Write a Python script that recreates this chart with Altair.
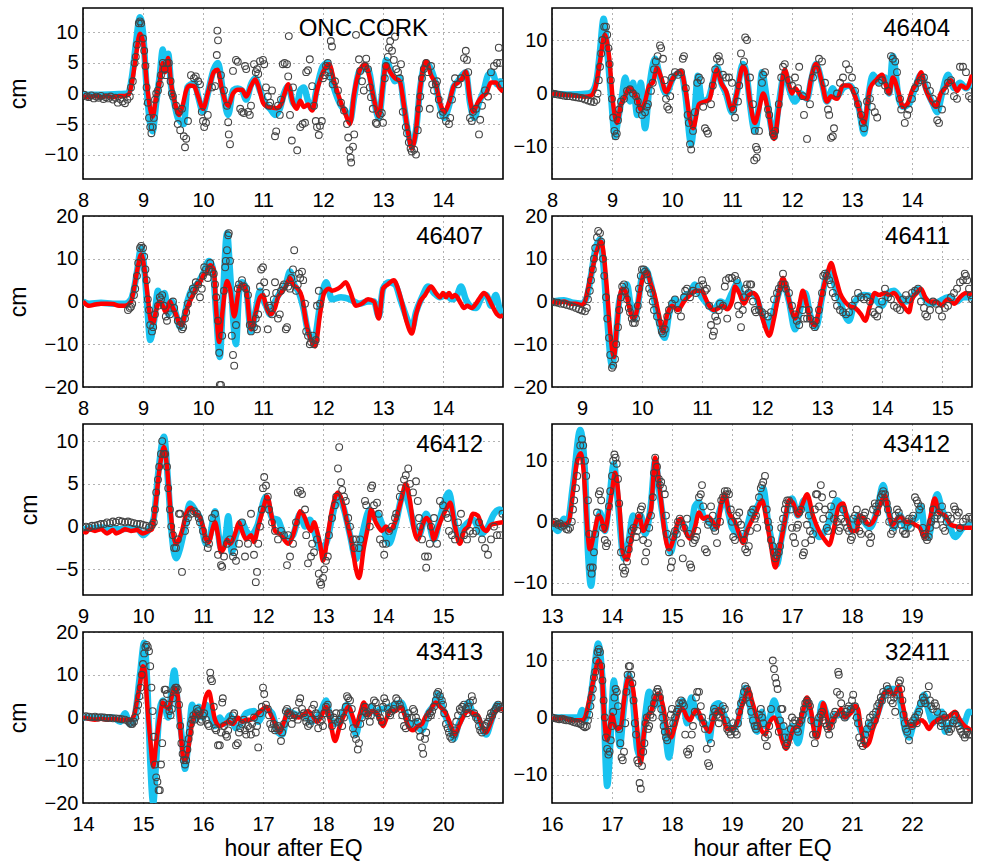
import altair as alt
import pandas as pd

# ---------------- data (hours after EQ, cm) ----------------
CORK_OBS = [(8.02,-0.2),(8.06,-0.5),(8.10,-0.6),(8.14,-0.3),(8.18,-0.8),(8.22,-0.5),(8.26,-0.7),(8.30,-0.4),(8.34,-0.9),(8.38,-0.6),(8.42,-0.8),(8.46,-0.5),(8.50,-1.0),(8.54,-0.7),(8.58,-1.5),(8.62,-0.9),(8.66,-1.3),(8.70,-1.6),(8.74,-1.0),(8.78,-0.5),
(8.80,1.0),(8.83,2.0),(8.86,5.0),(8.88,6.0),(8.90,8.0),(8.93,11.5),(8.95,11.8),(8.97,11.5),(9.00,9.0),(9.02,7.0),(9.04,4.5),(9.06,1.0),(9.08,-1.5),(9.10,-4.0),(9.12,-5.5),(9.14,-6.5),(9.16,-5.5),(9.18,-4.0),(9.20,-1.0),(9.22,0.0),(9.25,0.5),(9.28,1.5),(9.30,3.0),(9.33,5.0),(9.36,4.0),(9.38,3.0),(9.40,5.0),(9.43,5.0),(9.46,2.0),(9.48,0.0),(9.50,-0.5),(9.55,-2.0),(9.58,-5.0),(9.60,-3.0),(9.62,-6.0),(9.65,-2.5),(9.68,-7.0),(9.70,-8.8),(9.72,-7.4),(9.75,-4.5),(9.80,3.0),(9.85,2.5),(9.88,2.8),(9.92,2.0),(9.95,1.5),(9.98,-3.0),(10.00,-4.5),(10.02,-5.5),(10.05,-4.8),(10.08,-3.5),(10.15,1.0),(10.20,1.2),(10.23,6.3),(10.24,10.3),(10.25,8.7),(10.30,3.0),(10.35,0.5),(10.40,-2.0),(10.42,-4.7),(10.43,-6.7),(10.45,-8.3),(10.50,3.7),(10.55,5.5),(10.58,5.2),(10.62,-2.5),(10.65,-3.0),(10.68,-3.2),(10.70,4.5),(10.72,4.0),(10.75,-3.0),(10.78,-3.5),(10.80,-2.0),(10.85,4.8),(10.88,3.5),(10.90,4.0),(10.92,3.2),(10.95,5.3),(11.00,5.5),(11.02,4.8),(11.05,1.0),(11.08,-0.5),(11.10,-2.0),(11.12,-1.5),(11.15,0.5),(11.20,-7.0),(11.22,-6.2),(11.25,-2.0),(11.28,-3.5),(11.30,-1.0),(11.33,4.8),(11.36,5.0),(11.40,4.8),(11.42,2.8),(11.43,9.4),(11.45,-3.5),(11.48,-7.7),(11.50,1.0),(11.57,-9.3),(11.62,-5.5),(11.66,-5.0),(11.70,-4.8),(11.72,3.5),(11.75,3.8),(11.78,5.6),(11.82,1.2),(11.85,-2.0),(11.88,-4.5),(11.90,-5.5),(11.93,-6.8),(11.95,-5.3),(11.98,-4.5),(12.00,2.5),(12.03,3.0),(12.05,4.5),(12.08,5.0),(12.10,3.5),(12.12,2.8),(12.13,8.6),(12.15,7.7),(12.16,1.5),(12.20,2.0),(12.25,0.5),(12.30,-1.5),(12.35,-2.8),(12.40,-5.0),(12.42,-7.2),(12.44,-9.3),(12.46,-10.5),(12.47,-11.3),(12.50,-8.7),(12.52,-6.7),(12.55,9.6),(12.60,5.6),(12.62,3.7),(12.65,2.0),(12.68,0.5),(12.70,4.5),(12.72,5.7),(12.75,4.0),(12.78,1.0),(12.80,-0.6),(12.83,-2.5),(12.88,-4.8),(12.90,-5.0),(12.95,-3.5),(12.98,-3.2),(13.00,-4.8),(13.03,2.5),(13.05,4.5),(13.08,6.0),(13.10,7.5),(13.12,8.6),(13.15,7.0),(13.18,5.5),(13.20,9.3),(13.22,4.0),(13.25,3.5),(13.28,2.5),(13.30,4.8),(13.33,-3.0),(13.38,-5.5),(13.40,-6.5),(13.43,-8.0),(13.46,-9.0),(13.48,-9.5),(13.52,-9.2),(13.55,-10.0),(13.58,-6.0),(13.60,-2.5),(13.62,-0.5),(13.65,2.5),(13.68,4.0),(13.72,5.0),(13.75,3.5),(13.78,-2.5),(13.80,4.5),(13.82,1.5),(13.85,0.5),(13.88,1.5),(13.90,2.0),(13.93,-1.0),(13.96,-3.5),(14.00,-3.0),(14.05,-4.5),(14.10,-5.0),(14.12,-4.0),(14.15,-1.0),(14.20,2.5),(14.25,1.5),(14.30,2.5),(14.35,5.8),(14.38,7.0),(14.40,5.5),(14.42,3.5),(14.45,-4.0),(14.48,-4.5),(14.50,-3.0),(14.55,-2.5),(14.60,-6.7),(14.62,-4.3),(14.65,-2.0),(14.70,0.5),(14.75,-0.5),(14.80,3.5),(14.85,4.5),(14.90,5.0),(14.93,7.5),(14.95,5.0),(14.98,1.5)]
CORK_RED = [(8.0,-0.5),(8.1,-0.6),(8.2,-0.4),(8.3,-0.6),(8.4,-0.4),(8.5,-0.6),(8.6,-0.4),(8.7,-0.4),(8.76,-0.2),(8.82,2),(8.88,6),(8.95,9.8),(9.0,8.5),(9.06,2),(9.12,-2.5),(9.16,-3.8),(9.22,-0.5),(9.28,2),(9.33,5),(9.37,3.5),(9.42,5.8),(9.47,1.5),(9.52,-1),(9.6,-3.5),(9.66,-2),(9.72,0.5),(9.78,1.3),(9.85,1.2),(9.92,-0.5),(10.0,-2.5),(10.08,0),(10.18,3.5),(10.24,3.9),(10.32,0.5),(10.42,-2.0),(10.5,0),(10.58,0.6),(10.65,0.6),(10.72,-0.5),(10.8,1.2),(10.87,2.3),(10.93,1),(11.0,-1.5),(11.08,-2.2),(11.15,-2.3),(11.22,-2.4),(11.3,-1.8),(11.36,0),(11.42,1.5),(11.5,-1.5),(11.56,-2.5),(11.62,-1.2),(11.68,-2.2),(11.75,-1.8),(11.82,-2.8),(11.9,0.5),(12.0,3.5),(12.1,4.8),(12.2,1.5),(12.3,-1.5),(12.38,-3.5),(12.45,-5),(12.52,0),(12.6,3.5),(12.7,4.8),(12.78,2.5),(12.85,-1),(12.93,-3.7),(13.0,1.5),(13.05,4.8),(13.12,3.5),(13.2,2.5),(13.28,2),(13.35,-2),(13.42,-6.5),(13.48,-9),(13.55,-6),(13.62,1),(13.72,5.3),(13.8,3),(13.88,1.5),(13.95,-1.5),(14.02,-3),(14.1,-1.5),(14.18,1.2),(14.25,1.8),(14.32,2.5),(14.38,3.6),(14.45,-1),(14.5,-3),(14.58,-1.5),(14.65,-0.5),(14.72,0),(14.8,1.8),(14.88,1.8),(14.95,0.8),(15.0,0.3)]
CORK_CYAN = [(8.0,-0.2),(8.3,-0.2),(8.6,-0.1),(8.75,0),(8.82,3),(8.88,8),(8.95,12.5),(9.0,10),(9.06,1),(9.12,-5),(9.16,-6.2),(9.22,-1.5),(9.28,3),(9.33,7.2),(9.37,4),(9.42,6.5),(9.47,1),(9.52,-1.5),(9.58,-4),(9.62,-4.5),(9.68,-5),(9.74,1),(9.8,1.5),(9.86,1.7),(9.92,-0.5),(10.0,-3),(10.08,0),(10.18,4),(10.25,5),(10.33,0.5),(10.42,-3.5),(10.5,0.5),(10.58,0.8),(10.65,0.5),(10.72,-1),(10.8,1.5),(10.87,2.5),(10.95,0.5),(11.05,-1.8),(11.12,-2.5),(11.2,-3.5),(11.28,-2.5),(11.35,0),(11.42,1.2),(11.5,-1.5),(11.56,-2),(11.62,0.5),(11.68,1),(11.75,-1.2),(11.82,-2.5),(11.9,1),(12.0,4.5),(12.08,5),(12.18,1),(12.3,-2),(12.38,-3),(12.45,-4.5),(12.52,-0.5),(12.6,3.5),(12.68,4),(12.75,4),(12.85,-1),(12.93,-4),(13.0,1.5),(13.05,5.5),(13.12,4),(13.2,2),(13.28,2.5),(13.35,-2),(13.42,-6.5),(13.48,-8.5),(13.55,-6),(13.62,1),(13.72,5),(13.8,4),(13.88,1.5),(13.95,-2),(14.02,-4),(14.1,-2),(14.18,1.2),(14.25,2),(14.32,3),(14.38,3.5),(14.45,-1.5),(14.52,-4),(14.6,-1.5),(14.68,0.5),(14.75,3),(14.82,3.5),(14.9,1.5),(14.95,2),(15.0,1)]

S46404_OBS = [(8.0,0),(8.05,-0.1),(8.1,-0.2),(8.15,-0.3),(8.2,-0.4),(8.25,-0.5),(8.3,-0.5),(8.35,-0.6),(8.4,-0.7),(8.45,-0.8),(8.5,-0.9),(8.55,-1.1),(8.6,-1.3),(8.65,-1.5),(8.7,-1.6),(8.74,-1.2),(8.76,0),(8.78,2.5),(8.8,5),(8.82,7.5),(8.84,10),(8.87,12.5),(8.9,12.5),(8.92,11),(8.94,8.5),(8.96,5.5),(8.98,2.5),(9.0,-1),(9.02,-4.5),(9.04,-7),(9.06,-8),(9.08,-7.5),(9.1,-5),(9.12,-3),(9.15,-1.5),(9.2,-1),(9.25,0.5),(9.3,0.8),(9.35,0),(9.4,-0.5),(9.43,-1.5),(9.46,-3),(9.5,-4),(9.55,-3.5),(9.58,-2.5),(9.6,-2),(9.65,0.5),(9.68,2),(9.7,4.5),(9.73,6),(9.76,7),(9.8,9),(9.82,8.5),(9.85,6.5),(9.88,2.5),(9.9,-1),(9.92,-2.5),(9.95,-3),(9.97,-0.5),(10.0,3),(10.05,4),(10.1,3.5),(10.15,4),(10.18,6.5),(10.2,7),(10.23,1),(10.26,-4),(10.28,-5.5),(10.3,-9.5),(10.32,-10.5),(10.35,-7),(10.38,-3.5),(10.42,2),(10.45,3),(10.48,2.5),(10.52,-2.5),(10.55,-6.5),(10.58,-7),(10.6,-7.5),(10.65,-2),(10.68,1.5),(10.72,4.5),(10.75,6.5),(10.78,7),(10.8,6),(10.85,3.5),(10.9,3),(10.95,3),(11.0,2),(11.02,-3),(11.05,-4.5),(11.1,-1.5),(11.12,1.5),(11.15,7.5),(11.2,6),(11.22,10.5),(11.25,10),(11.3,3),(11.35,-2),(11.37,-12.5),(11.38,-7),(11.4,-10),(11.41,-12),(11.42,-10.5),(11.45,-7),(11.5,2),(11.52,3.5),(11.55,4),(11.6,-3),(11.62,-4),(11.68,-7.5),(11.7,-8),(11.72,-7),(11.78,-2),(11.82,3),(11.85,5),(11.88,5.5),(11.95,2.5),(12.0,1.5),(12.05,3),(12.1,1),(12.12,5),(12.18,-0.5),(12.2,-4),(12.25,-8.5),(12.3,-2),(12.35,3),(12.4,4.5),(12.45,6.5),(12.5,6),(12.55,2),(12.6,-3),(12.62,-4),(12.65,-8.3),(12.68,-8),(12.7,-6.5),(12.75,0),(12.8,2),(12.85,3),(12.9,5.5),(12.95,4.5),(13.0,3),(13.05,0.5),(13.1,-2),(13.15,-4),(13.18,-5.5),(13.2,-6.5),(13.25,-1.5),(13.3,-1),(13.33,-2.5),(13.38,-3.5),(13.42,-4.5),(13.45,2),(13.5,2.5),(13.55,1.5),(13.6,0.5),(13.65,7),(13.68,6.5),(13.72,6),(13.75,4),(13.8,-1),(13.82,-3),(13.88,-5.5),(13.92,-4),(13.95,-3),(14.0,-1),(14.05,1),(14.1,2),(14.15,2.5),(14.2,3),(14.25,1.5),(14.3,0.5),(14.35,-1),(14.4,-2),(14.42,-5),(14.45,-5.5),(14.5,-3),(14.55,0.5),(14.6,2),(14.65,2.5),(14.7,-0.5),(14.75,-1),(14.8,5),(14.85,5),(14.9,4),(14.95,-0.5),(14.99,-1)]
S46404_RED = [(8.0,0),(8.2,-0.3),(8.4,-0.4),(8.55,-0.6),(8.65,-0.4),(8.72,1),(8.8,6),(8.88,11),(8.95,7),(9.02,-2),(9.08,-5.5),(9.15,-2),(9.2,-1),(9.28,1),(9.35,0.5),(9.42,-1),(9.48,-3),(9.55,-1.5),(9.62,1.5),(9.68,2),(9.75,4.8),(9.82,3),(9.9,0.3),(10.02,3),(10.15,4.2),(10.22,1),(10.3,-4.8),(10.35,-6.5),(10.45,-2),(10.55,-1.5),(10.62,-1.2),(10.68,1.5),(10.75,4.5),(10.82,2),(10.9,0.5),(11.0,-3),(11.08,0),(11.18,5),(11.22,4.5),(11.3,-1.5),(11.38,-5.5),(11.45,-3),(11.52,0),(11.6,-3),(11.7,-8.5),(11.78,-3),(11.88,4.5),(11.95,1.5),(12.0,0),(12.05,1),(12.15,-0.5),(12.25,-1),(12.32,3),(12.4,5.5),(12.5,2),(12.58,-1.5),(12.65,-0.5),(12.75,-1),(12.85,1.5),(12.95,1.5),(13.05,-0.5),(13.12,-3),(13.2,-5.5),(13.3,1),(13.4,2.5),(13.5,3.5),(13.58,1),(13.62,0),(13.68,3),(13.78,0),(13.85,-2.5),(13.92,-2),(14.0,0.5),(14.08,2),(14.15,4),(14.22,1),(14.3,-1),(14.4,-2.5),(14.48,0),(14.55,1),(14.65,2.5),(14.75,0.5),(14.82,1.5),(14.9,1),(15.0,3.5)]
S46404_CYAN = [(8.0,0),(8.3,-0.2),(8.6,0),(8.68,0.5),(8.75,3),(8.8,8),(8.86,14),(8.92,8),(8.98,0),(9.05,-8),(9.1,-5),(9.16,-1),(9.22,3),(9.3,-1.5),(9.35,2),(9.42,-4),(9.48,2),(9.55,-6.5),(9.62,1),(9.72,6.5),(9.8,3),(9.9,0),(10.02,3),(10.15,4),(10.22,0),(10.32,-9.5),(10.38,-3),(10.43,3.3),(10.5,-1.5),(10.6,-1),(10.68,2),(10.75,5),(10.82,2),(10.9,0),(11.0,-3.5),(11.08,0),(11.18,5.5),(11.25,3),(11.3,-2),(11.38,-7),(11.45,-2),(11.5,4),(11.58,-1),(11.7,-8),(11.78,-2),(11.88,4),(11.95,1),(12.05,-1.5),(12.15,0),(12.25,-1),(12.32,2.5),(12.4,5.5),(12.5,2),(12.58,-1.5),(12.68,1),(12.75,-0.5),(12.85,1),(12.95,1.5),(13.05,0),(13.12,-3),(13.2,-7.5),(13.28,0),(13.35,3.5),(13.45,2),(13.55,3),(13.62,0),(13.68,7),(13.78,-1),(13.85,-2.5),(13.95,-2),(14.05,1),(14.15,3.5),(14.25,0.5),(14.35,-2),(14.42,-3.5),(14.5,0),(14.6,3.5),(14.7,1),(14.8,2),(14.9,1),(15.0,2.5)]

S46407_OBS = [(8.75,-2),(8.78,-1.5),(8.8,-1.2),(8.82,-0.5),(8.85,1.5),(8.87,3),(8.9,6),(8.92,9),(8.95,12.5),(8.97,13),(9.0,12.5),(9.02,10.5),(9.04,7.5),(9.06,5),(9.08,0.5),(9.1,-2),(9.12,-5.5),(9.15,-7),(9.17,-6),(9.2,-3),(9.25,-1),(9.28,1),(9.3,0.5),(9.32,1.5),(9.35,-1),(9.38,-3.5),(9.4,-4.5),(9.45,-3),(9.5,0),(9.52,-1.5),(9.58,-4.5),(9.62,-5.5),(9.65,-6.5),(9.67,-6),(9.7,-4),(9.72,-2.5),(9.75,-0.5),(9.8,1.5),(9.83,3),(9.85,2.5),(9.88,4.5),(9.92,4),(9.95,1),(9.98,3),(10.0,6),(10.02,8),(10.05,7.5),(10.08,5.5),(10.1,7.5),(10.12,9),(10.15,7),(10.18,6.5),(10.2,4),(10.22,1),(10.25,-4.5),(10.27,-12),(10.28,-19.5),(10.3,-19.5),(10.32,-8),(10.35,2.5),(10.37,8),(10.38,9.5),(10.4,12),(10.42,15.5),(10.43,16),(10.45,9.5),(10.48,-8),(10.5,-12.5),(10.52,-15),(10.55,-5.5),(10.58,3),(10.6,4),(10.65,5),(10.68,3.5),(10.72,3),(10.75,1.5),(10.78,-5.5),(10.8,-7),(10.82,-5.5),(10.85,-6),(10.88,-4),(10.9,-6.5),(10.92,-3),(10.95,3.5),(10.97,7.5),(11.0,8),(11.02,4.5),(11.05,2),(11.08,-6.5),(11.1,-1),(11.12,-1.5),(11.15,-3),(11.18,0.5),(11.2,4.5),(11.22,2),(11.25,-4),(11.28,-3),(11.3,2.5),(11.33,3.5),(11.35,4),(11.38,-6.5),(11.4,-6),(11.42,3.5),(11.45,3),(11.47,5.5),(11.5,7.5),(11.52,12),(11.55,2.5),(11.58,4),(11.6,6.5),(11.62,5.5),(11.65,7),(11.67,5),(11.7,-0.5),(11.72,-7),(11.75,-8),(11.78,-10),(11.8,-9.5),(11.83,-8),(11.85,-10),(11.88,-9),(11.9,-1),(11.93,2.5),(11.95,-0.5)]
S46407_RED = [(8.0,0),(8.1,-1),(8.2,-0.7),(8.3,-0.5),(8.4,-0.5),(8.5,-0.6),(8.6,-1),(8.7,-1),(8.8,0),(8.85,3),(8.9,7),(8.97,11),(9.02,8),(9.08,1),(9.13,-4.5),(9.17,-5),(9.22,-2),(9.28,0),(9.33,-1),(9.38,-2.5),(9.45,0),(9.5,-1.5),(9.55,-3),(9.6,-5),(9.65,-5.5),(9.7,-3),(9.78,0),(9.85,2),(9.9,4),(9.95,4.5),(10.0,6),(10.05,6.5),(10.12,8.5),(10.18,7.5),(10.22,-2),(10.27,-9.5),(10.32,-3),(10.4,4.8),(10.45,3),(10.52,-3.5),(10.6,3),(10.65,4),(10.72,2.5),(10.8,-6.5),(10.87,-3),(10.95,1),(11.0,1.5),(11.05,-1),(11.12,-3),(11.2,-1.5),(11.25,1),(11.3,2),(11.38,3.5),(11.45,5.5),(11.5,4),(11.58,3),(11.65,1),(11.72,-5),(11.8,-9),(11.87,-10.5),(11.95,-3),(12.02,2),(12.1,3),(12.15,2.5),(12.25,3),(12.3,3.5),(12.38,4.5),(12.45,2.5),(12.55,-1),(12.65,-0.5),(12.75,0.5),(12.85,0),(12.93,-4),(13.0,3),(13.08,4),(13.18,5),(13.25,3),(13.32,-0.5),(13.4,-5),(13.48,-7.5),(13.55,-3),(13.62,0),(13.7,1.5),(13.8,3.5),(13.88,2),(13.95,1),(14.0,2),(14.05,1),(14.1,2),(14.15,1),(14.2,1.5),(14.3,-0.5),(14.35,-1.5),(14.4,-1),(14.48,-1.5),(14.55,-0.5),(14.62,1),(14.68,2),(14.75,1),(14.82,-1),(14.9,-3),(14.95,-3.5),(15.0,-3.2)]
S46407_CYAN = [(8.0,0),(8.1,-0.5),(8.3,-0.3),(8.5,-0.5),(8.7,-0.5),(8.8,0.5),(8.85,3),(8.9,7),(8.97,12.5),(9.02,8),(9.07,-1),(9.12,-9),(9.18,-5),(9.25,2.5),(9.3,0),(9.36,2),(9.42,-3),(9.48,0),(9.55,-3),(9.62,-6),(9.68,-4),(9.75,0.5),(9.82,3),(9.9,4),(10.0,6.5),(10.1,9.5),(10.16,8),(10.22,-3),(10.28,-13),(10.33,0),(10.4,16),(10.46,5),(10.55,-10),(10.6,2),(10.65,4.5),(10.72,3),(10.8,-7),(10.88,-2),(10.95,2.5),(11.0,0.5),(11.05,-1),(11.12,-3),(11.2,0),(11.28,2),(11.38,4),(11.45,7),(11.52,4),(11.6,2),(11.68,-2),(11.75,-7),(11.85,-9),(11.95,-1),(12.05,4.5),(12.15,0.5),(12.3,1),(12.45,0.5),(12.6,-0.5),(12.75,0),(12.85,0),(12.93,-3.5),(13.0,3),(13.1,4.5),(13.2,4),(13.3,0),(13.4,-4),(13.48,-6.5),(13.55,-2.5),(13.65,1),(13.75,3.5),(13.85,2),(13.95,1),(14.05,1.5),(14.15,0.5),(14.22,1),(14.3,3.5),(14.38,0.5),(14.45,-1),(14.55,-1.5),(14.65,1),(14.72,1.5),(14.8,-1),(14.88,1.5),(14.95,-2),(15.0,-2.5)]

S46411_OBS = [(8.5,0),(8.55,-0.2),(8.6,-0.3),(8.65,-0.5),(8.7,-0.6),(8.75,-0.8),(8.8,-1),(8.85,-1.2),(8.9,-1.5),(8.95,-1.8),(9.0,-2.1),(9.05,-2.3),(9.08,-1.5),(9.1,0.5),(9.13,2.5),(9.15,5),(9.18,7.5),(9.2,10),(9.22,12.5),(9.25,15),(9.27,16.5),(9.3,16),(9.32,14),(9.35,10),(9.37,6),(9.4,1),(9.42,-4),(9.45,-8.5),(9.47,-12.5),(9.5,-15.5),(9.52,-15),(9.55,-13.5),(9.57,-10),(9.6,-6),(9.62,-2),(9.65,1),(9.67,3.5),(9.7,4),(9.72,2.5),(9.75,0.5),(9.78,-1.5),(9.8,-2.5),(9.83,-4),(9.85,-5),(9.88,-5),(9.9,-4),(9.93,-1),(9.95,3),(9.98,6),(10.0,7.5),(10.03,7.5),(10.05,7),(10.08,6.5),(10.1,5),(10.12,3),(10.15,2),(10.18,0),(10.2,-2),(10.25,-3.5),(10.3,-5),(10.33,-7),(10.35,-7.5),(10.38,-6.5),(10.42,-3.5),(10.45,-2),(10.5,-0.5),(10.55,0.5),(10.6,-2),(10.65,-3.5),(10.7,1),(10.72,2.5),(10.75,3),(10.8,1),(10.85,2.5),(10.9,2),(10.95,3.5),(11.0,5),(11.02,4),(11.05,2.5),(11.08,3),(11.12,-1),(11.15,-5.5),(11.18,-8),(11.2,-7),(11.22,-3.5),(11.25,-4.5),(11.28,-2),(11.3,-0.5),(11.35,-1),(11.38,3.5),(11.4,5),(11.42,-4),(11.45,5.5),(11.5,5.5),(11.55,6),(11.58,5),(11.6,-1),(11.62,-3),(11.65,-6),(11.68,-2),(11.7,1),(11.72,3),(11.75,4),(11.78,2),(11.8,4),(11.82,4),(11.85,0),(11.88,-2),(11.9,-2.5),(11.95,-2),(12.0,-2.5),(12.05,-3),(12.1,-3.5),(12.15,-2.5),(12.2,0.5),(12.25,2),(12.28,3),(12.32,4),(12.35,6.5),(12.38,4),(12.4,3),(12.45,2),(12.5,-1),(12.55,-3),(12.58,-4.5),(12.62,-5.5),(12.68,-2),(12.7,-4),(12.75,-4),(12.78,-2),(12.8,-4),(12.85,-5.5),(12.88,-6),(12.9,-4.5),(12.95,-2),(13.0,2),(13.02,6),(13.05,6.5),(13.08,6),(13.12,5),(13.15,4),(13.18,2),(13.22,1),(13.25,-1),(13.3,-2),(13.35,-2.5),(13.4,-3),(13.45,-2.5),(13.5,-1),(13.55,0.5),(13.6,2),(13.65,1),(13.7,0.5),(13.75,1),(13.8,0),(13.85,-2.5),(13.88,-3),(13.92,-3.5),(13.95,-2),(14.0,0),(14.05,3),(14.1,1),(14.15,0.5),(14.2,-1),(14.25,-1.5),(14.3,-2),(14.35,0.5),(14.4,1.5),(14.45,0.5),(14.5,2),(14.55,2.5),(14.6,3),(14.65,0),(14.7,-1.5),(14.72,-3),(14.75,-3.5),(14.8,-2),(14.85,0),(14.9,-0.5),(14.95,-2),(15.0,-3.5),(15.05,-1.5),(15.1,-1),(15.15,1),(15.2,2),(15.25,3),(15.3,4.5),(15.35,5),(15.38,6.5),(15.4,6),(15.42,5),(15.45,3),(15.48,1.5),(15.5,0.5)]
S46411_RED = [(8.5,0),(8.6,-0.3),(8.7,0),(8.8,-0.5),(8.9,-0.5),(9.0,-0.8),(9.05,0),(9.1,3),(9.18,8),(9.25,12),(9.32,14),(9.37,10),(9.42,2),(9.47,-7),(9.53,-13),(9.58,-6),(9.62,0),(9.67,3),(9.72,2.5),(9.78,-1),(9.85,-4),(9.9,-3),(9.95,1),(10.02,6),(10.08,7),(10.15,4),(10.2,2),(10.28,-3),(10.35,-7),(10.42,-3),(10.5,-1),(10.6,-2),(10.7,0),(10.8,1.5),(10.9,2.5),(11.0,2.5),(11.05,1),(11.12,-1),(11.2,-2),(11.28,-1.5),(11.35,-1),(11.42,-1.8),(11.5,0),(11.55,3.5),(11.62,2),(11.7,-0.5),(11.78,1.5),(11.85,2),(11.92,1),(12.0,-3.5),(12.08,-7),(12.12,-8),(12.2,-4),(12.28,2),(12.35,5.5),(12.42,2),(12.5,-2.5),(12.55,-4),(12.62,-1),(12.68,2.5),(12.75,-1),(12.8,-4),(12.88,-5.5),(12.95,-2),(13.02,3),(13.1,7),(13.15,9),(13.22,6),(13.3,2),(13.38,0),(13.45,-1),(13.55,-1.5),(13.65,-3),(13.72,-4.5),(13.8,-1),(13.88,2),(13.95,1.5),(14.05,2),(14.12,1.5),(14.2,2),(14.3,0),(14.38,-1.5),(14.45,-2.5),(14.5,0.5),(14.58,2),(14.65,3),(14.72,1),(14.8,0),(14.9,0),(15.0,-1),(15.05,0),(15.1,0.5),(15.2,-0.5),(15.3,1),(15.4,2),(15.5,1.5)]
S46411_CYAN = [(8.5,0),(8.7,0.3),(8.85,-0.3),(9.0,-0.5),(9.08,1),(9.15,6),(9.22,12),(9.3,14.5),(9.36,8),(9.42,-4),(9.5,-15),(9.56,-9),(9.62,0),(9.68,2.5),(9.75,4),(9.8,0),(9.87,-4),(9.93,-1),(10.0,6),(10.06,7.5),(10.15,4),(10.25,-3),(10.38,-8.5),(10.45,-3),(10.55,0.5),(10.62,-1),(10.72,1.5),(10.8,2),(10.88,4),(10.95,2),(11.05,0),(11.12,-1),(11.2,-2),(11.3,0),(11.4,-0.5),(11.5,2),(11.6,4.5),(11.68,1),(11.78,2),(11.88,1.5),(12.0,-3),(12.1,-6),(12.2,-2),(12.28,2),(12.35,4.5),(12.45,0),(12.55,-6.5),(12.65,-1),(12.72,2),(12.8,-3),(12.9,-6),(13.0,1),(13.1,7),(13.18,5),(13.3,0),(13.45,-4.5),(13.55,0),(13.7,1.5),(13.85,1),(14.0,-1),(14.1,2),(14.2,2.5),(14.3,1),(14.4,0),(14.5,1),(14.6,3),(14.7,1),(14.8,-0.5),(14.95,0),(15.1,1),(15.25,0),(15.35,1),(15.5,1)]

S46412_OBS = [(9.0,-0.1),(9.05,0),(9.1,-0.1),(9.15,0.1),(9.2,0.1),(9.25,0.2),(9.3,0.3),(9.35,0.3),(9.4,0.5),(9.45,0.4),(9.5,0.6),(9.55,0.5),(9.6,0.7),(9.65,0.6),(9.7,0.5),(9.75,0.6),(9.8,0.5),(9.85,0.4),(9.9,0.3),(9.95,0.3),(10.0,0.2),(10.05,0.1),(10.1,-0.1),(10.15,0.2),(10.18,0.5),(10.2,2),(10.22,4),(10.25,5.5),(10.27,7),(10.3,8.5),(10.32,10),(10.35,8.5),(10.37,8.5),(10.4,7),(10.42,4.5),(10.45,2),(10.47,0),(10.5,-1),(10.52,-2.5),(10.55,-2.5),(10.58,-1.5),(10.6,1.5),(10.62,1.5),(10.65,-5.3),(10.7,-0.5),(10.72,0.5),(10.75,1),(10.8,1.5),(10.85,1.8),(10.9,1.5),(10.93,1),(10.95,0.5),(11.0,-0.5),(11.05,-1.5),(11.08,-2.5),(11.1,-2),(11.15,1),(11.2,1.5),(11.25,-3.3),(11.3,-4.5),(11.32,-4.7),(11.35,-3.5),(11.4,-2),(11.45,-1.5),(11.5,-3.5),(11.52,-3),(11.55,-4),(11.6,-2),(11.65,0.5),(11.7,-3.5),(11.75,-2),(11.8,1.5),(11.85,-3.3),(11.88,-6.5),(11.9,-5.3),(11.92,-2),(11.95,0),(11.98,2),(12.0,4.5),(12.02,5.8),(12.05,4.8),(12.08,3.5),(12.1,2),(12.15,0.5),(12.2,-0.5),(12.25,-1.5),(12.3,-0.5),(12.35,-1),(12.4,-4.5),(12.42,-1),(12.45,-3.5),(12.5,-2),(12.55,0.5),(12.58,4),(12.62,4.2),(12.65,3.8),(12.7,2),(12.72,-1),(12.75,-4.3),(12.8,-3.5),(12.82,-2),(12.85,-3),(12.9,-1.5),(12.93,-5.5),(12.95,-6.5),(12.97,-6.8),(13.0,-6),(13.02,-5),(13.05,-4),(13.08,-3.5),(13.1,-1),(13.15,1),(13.2,2.5),(13.22,3.5),(13.25,6.8),(13.27,9.3),(13.3,5.2),(13.32,4.3),(13.35,3.5),(13.38,3),(13.42,1),(13.45,0),(13.5,-1.5),(13.52,-2.5),(13.55,-1.5),(13.6,-2.5),(13.62,-1.5),(13.7,3),(13.72,2.5),(13.78,0),(13.8,4.5),(13.82,4.8),(13.85,2.5),(13.9,2.8),(13.93,1.5),(13.95,-1.5),(14.0,-2),(14.02,-3.3),(14.05,-2),(14.1,-0.5),(14.15,0),(14.2,1),(14.22,1.5),(14.28,3.5),(14.3,4.5),(14.35,5.5),(14.38,6),(14.42,6.8),(14.45,5),(14.5,4),(14.55,5.3),(14.58,3),(14.6,1),(14.62,0),(14.65,-1.5),(14.7,-3.5),(14.72,-4.8),(14.75,-3.5),(14.78,-2),(14.8,0),(14.85,1),(14.9,-2),(14.95,3),(15.0,2.5),(15.05,1.5),(15.08,1),(15.1,-0.5),(15.15,-1),(15.2,-1.5),(15.25,0.5),(15.3,1.5),(15.35,-1),(15.4,-1.5),(15.45,-0.5),(15.5,-0.8),(15.55,-0.5),(15.6,0.5),(15.65,-1.5),(15.7,-2.5),(15.75,-3.3),(15.8,-1.5),(15.85,0),(15.9,-1),(15.95,-1),(15.99,1.5)]
S46412_RED = [(9.0,-0.5),(9.05,-0.7),(9.1,-0.3),(9.2,-0.5),(9.3,-0.3),(9.4,-0.8),(9.45,-0.6),(9.5,-0.4),(9.55,-0.8),(9.65,-0.5),(9.7,-0.3),(9.8,-0.5),(9.9,-0.4),(10.0,-0.8),(10.1,-0.5),(10.15,-0.3),(10.2,2),(10.28,7),(10.35,9.3),(10.4,7),(10.47,1),(10.55,-2),(10.6,-1.5),(10.65,-0.5),(10.72,1.5),(10.8,2.2),(10.87,1.5),(10.93,1.3),(11.0,0),(11.05,-1.5),(11.1,-1.8),(11.15,-0.5),(11.2,0.5),(11.25,-1),(11.3,-3),(11.35,-2.5),(11.4,-1.5),(11.45,-2),(11.5,-1.5),(11.55,-0.5),(11.6,0.5),(11.65,-0.5),(11.72,-1.5),(11.8,-1),(11.85,-1.8),(11.92,0),(12.0,2),(12.07,3.5),(12.15,1),(12.2,-0.5),(12.3,-1),(12.35,-1.5),(12.42,-2),(12.5,-1),(12.58,1),(12.62,1.8),(12.7,1),(12.75,0),(12.8,-0.5),(12.85,0.5),(12.9,-0.5),(12.95,-2),(13.0,-4),(13.08,-1),(13.15,2),(13.25,4),(13.32,3),(13.4,0.5),(13.48,-2),(13.55,-5),(13.6,-6),(13.68,-2.5),(13.75,0),(13.8,2),(13.88,0.5),(13.92,0),(13.98,-0.5),(14.05,0),(14.1,-0.5),(14.2,0.5),(14.3,3),(14.38,5),(14.45,3),(14.52,-0.5),(14.58,-1.5),(14.65,0),(14.72,1),(14.78,0.5),(14.85,-1.5),(14.9,-0.5),(14.98,1),(15.05,2),(15.12,2.8),(15.2,0),(15.28,-2),(15.35,-0.5),(15.42,0),(15.5,1.5),(15.58,1.3),(15.65,0),(15.72,-0.5),(15.8,0.2),(15.9,0.4),(16.0,0.5)]
S46412_CYAN = [(9.0,-0.3),(9.3,-0.1),(9.6,-0.3),(9.9,-0.2),(10.0,-1),(10.1,-0.3),(10.18,1),(10.25,6),(10.35,10.5),(10.42,5),(10.48,-1),(10.55,-3.7),(10.62,-2.5),(10.7,0),(10.78,2.7),(10.88,1.8),(10.95,1),(11.05,-2),(11.12,-1),(11.2,1.8),(11.3,-2.5),(11.38,-1),(11.42,1.2),(11.48,-3),(11.55,-1),(11.65,0.5),(11.72,-0.5),(11.8,-1),(11.9,0),(12.05,3.5),(12.15,1),(12.25,0.8),(12.32,-0.5),(12.4,-1.5),(12.5,-1),(12.62,1.5),(12.7,0),(12.78,0.8),(12.85,-0.5),(12.95,-2.5),(13.05,-2),(13.15,1),(13.25,3.5),(13.35,2),(13.45,-1),(13.55,-3.8),(13.65,-1),(13.78,2),(13.85,1),(13.9,1.5),(14.0,0),(14.1,-2),(14.2,0),(14.35,4),(14.45,2),(14.52,0),(14.6,-1),(14.72,1.5),(14.85,-1.5),(14.95,1),(15.1,4),(15.18,1),(15.25,-1),(15.35,0),(15.5,0.8),(15.65,-0.8),(15.75,0),(15.85,1.5),(15.95,2),(16.0,1.5)]

S43412_OBS = [(13.0,0),(13.03,-0.2),(13.06,0),(13.1,-0.5),(13.13,-0.3),(13.16,-0.8),(13.2,-0.6),(13.24,-1.2),(13.27,-1.3),(13.3,-1),(13.33,0),(13.35,2),(13.37,3.5),(13.4,5.5),(13.42,7.5),(13.45,10),(13.47,12.5),(13.5,13.5),(13.52,12.5),(13.55,10),(13.57,7.5),(13.6,3.5),(13.62,-2),(13.64,-7.5),(13.66,-8.5),(13.68,-7.5),(13.7,-5),(13.72,-2),(13.75,1.5),(13.78,4.5),(13.8,5),(13.82,3.5),(13.85,-1),(13.88,-3),(13.9,-4),(13.92,-3.5),(13.95,2.5),(13.97,5),(14.0,7.5),(14.02,10),(14.04,11),(14.06,10.5),(14.08,9.5),(14.1,7),(14.12,3),(14.15,-5),(14.18,-7.5),(14.2,-8.5),(14.22,-8),(14.25,-6.5),(14.28,-4.5),(14.3,-3),(14.33,-1.5),(14.36,-1),(14.4,-2.5),(14.42,-1.5),(14.45,1),(14.48,2),(14.5,2.5),(14.52,-3),(14.55,-6.5),(14.57,-5),(14.6,-3.5),(14.62,-1),(14.65,1),(14.68,4),(14.7,8),(14.72,10.5),(14.75,9),(14.78,7),(14.8,6),(14.82,6.5),(14.85,5.5),(14.88,4.5),(14.9,1),(14.92,-2),(14.95,-5),(14.98,-7.5),(15.0,-6.5),(15.02,-2.5),(15.05,-1.5),(15.08,-2),(15.1,0),(15.13,0.5),(15.15,-3.5),(15.18,-6),(15.2,-1),(15.25,0.5),(15.28,-2),(15.3,-7),(15.32,-7.5),(15.35,-3.5),(15.38,-3),(15.4,-2.5),(15.42,-1.5),(15.45,4),(15.48,4.5),(15.5,6),(15.52,2.5),(15.55,-4.5),(15.58,-5),(15.6,-0.5),(15.62,0),(15.65,2.5),(15.68,1),(15.7,-1),(15.72,-1.5),(15.75,-3.5),(15.8,0),(15.82,3.5),(15.85,4),(15.88,5),(15.9,4.5),(15.92,5),(15.95,4.5),(15.98,2),(16.0,0),(16.02,-2.5),(16.05,-3),(16.08,1),(16.1,0),(16.12,1.5),(16.15,-0.5),(16.18,-2),(16.2,-3),(16.22,-4.5),(16.25,-5),(16.28,-4),(16.3,-1.5),(16.32,1.5),(16.35,2),(16.38,0.5),(16.4,1),(16.42,-1),(16.45,4),(16.48,5.5),(16.5,6),(16.52,6.5),(16.55,7.5),(16.58,2),(16.6,0),(16.62,-1),(16.65,-3),(16.68,-4),(16.7,-5),(16.72,-6),(16.75,-5.5),(16.78,-5),(16.8,-4),(16.82,-1),(16.85,0.5),(16.88,2),(16.9,3),(16.92,3.5),(16.95,3.5),(16.98,2),(17.0,-1),(17.02,-2.5),(17.05,-3.5),(17.08,-1),(17.1,-0.5),(17.12,1.5),(17.15,2),(17.18,-5.5),(17.2,-5),(17.22,-3.5),(17.25,-0.5),(17.28,1),(17.3,-1.5),(17.32,-3),(17.35,-2),(17.38,2),(17.4,4.5),(17.42,4.5),(17.45,2.5),(17.48,6),(17.5,4),(17.52,0.5),(17.55,2),(17.58,-1),(17.6,-1.5),(17.62,1),(17.65,2.5),(17.68,4.5),(17.7,0.5),(17.75,0),(17.78,-1.5),(17.8,-1),(17.82,0.5),(17.85,2),(17.88,0),(17.92,-1),(17.95,-1.5),(17.98,-3),(18.0,-2.5),(18.02,0.5),(18.05,1),(18.08,2),(18.1,0),(18.12,-1.5),(18.15,-2),(18.18,0.5),(18.2,1),(18.22,1.5),(18.25,0),(18.28,-2),(18.3,-3.5),(18.32,-2.5),(18.35,2),(18.38,3),(18.4,2.5),(18.42,1.5),(18.45,3),(18.48,4),(18.5,4.5),(18.52,5),(18.55,4.5),(18.58,3),(18.6,2),(18.62,0),(18.65,-2),(18.68,-1.5),(18.7,-0.5),(18.72,1),(18.75,2),(18.78,1.5),(18.8,0.5),(18.82,-0.5),(18.85,-1.5),(18.88,-2),(18.9,-2),(18.92,0),(18.95,0.5),(18.98,-1),(19.0,0.5),(19.02,1),(19.05,4),(19.08,3.5),(19.1,3),(19.12,2),(19.15,2.5),(19.18,-1),(19.2,-2),(19.22,-2.5),(19.25,-3),(19.28,-2.5),(19.3,-1),(19.32,0),(19.35,2),(19.38,0.5),(19.4,-0.5),(19.42,1),(19.45,1.5),(19.48,0.5),(19.5,2.5),(19.52,-1),(19.55,-1.5),(19.58,0),(19.6,1),(19.65,0.5),(19.7,2.5),(19.72,2),(19.75,1),(19.78,1.5),(19.8,-1),(19.85,0),(19.9,0.5),(19.95,0.8),(19.99,0.5)]
S43412_RED = [(13.0,0),(13.1,-0.5),(13.2,-0.5),(13.28,0),(13.35,5),(13.42,10),(13.48,11.2),(13.53,8),(13.58,0),(13.63,-4.5),(13.7,-2),(13.78,1),(13.82,0.5),(13.88,-1.5),(13.95,2),(14.0,5),(14.05,8),(14.12,3),(14.18,-5),(14.25,-6.2),(14.32,-3),(14.4,0),(14.45,1),(14.52,-1.5),(14.6,0.5),(14.65,2),(14.72,10.5),(14.8,5),(14.88,-2),(14.95,-4.5),(15.02,-3),(15.1,0),(15.15,0.5),(15.22,-1.5),(15.3,-2.8),(15.38,-1),(15.45,1.5),(15.52,0.5),(15.6,0.8),(15.68,0),(15.75,-1),(15.82,3),(15.88,4.5),(15.95,1.5),(16.05,0),(16.12,-2),(16.18,-3.5),(16.25,-1.5),(16.32,0),(16.4,1.5),(16.5,3.5),(16.58,0),(16.65,-4),(16.72,-7.5),(16.8,-4),(16.88,0),(16.95,3.5),(17.02,3),(17.1,1),(17.18,3),(17.25,4.5),(17.35,1),(17.45,-1.5),(17.55,-3),(17.62,-3.8),(17.7,-1),(17.78,2.5),(17.85,3),(17.92,0.5),(18.0,-1.5),(18.08,-1.5),(18.12,1),(18.2,0.5),(18.28,-0.5),(18.35,0),(18.42,1.5),(18.5,3.5),(18.55,4.3),(18.6,2),(18.68,-0.5),(18.75,0.5),(18.82,0.8),(18.88,0),(18.96,0),(19.05,-0.5),(19.13,-1),(19.21,-2.6),(19.3,0.5),(19.38,3.8),(19.45,1.5),(19.55,1),(19.65,-0.5),(19.75,-0.8),(19.88,-1),(20.0,-1)]
S43412_CYAN = [(13.0,0),(13.1,-1.5),(13.2,0.5),(13.25,-0.5),(13.35,6),(13.47,15),(13.55,8),(13.6,-5),(13.65,-10.5),(13.72,-3),(13.8,1.5),(13.88,-1.5),(13.95,3),(14.03,9.5),(14.1,3),(14.2,-6),(14.28,-3),(14.35,1),(14.4,-0.5),(14.48,1),(14.55,-2),(14.65,3),(14.72,10),(14.8,4),(14.9,-2),(14.98,-5),(15.05,-2),(15.15,0),(15.22,-1),(15.3,-2.5),(15.38,2.5),(15.45,3.2),(15.52,1),(15.62,0),(15.7,-1),(15.8,2),(15.88,4),(15.95,1),(16.0,-1),(16.1,-2),(16.2,-2.5),(16.3,1),(16.45,3),(16.52,5.5),(16.6,0),(16.68,-4),(16.75,-7),(16.82,-3),(16.9,1),(17.0,3.8),(17.1,1),(17.2,3.5),(17.3,1),(17.38,-1.5),(17.45,-2.5),(17.6,-0.5),(17.75,3.5),(17.85,2),(17.95,0),(18.0,-1.5),(18.1,1),(18.2,0),(18.3,-1),(18.42,2),(18.52,6),(18.6,2),(18.7,-1),(18.8,1),(18.9,-1),(19.0,0),(19.1,1),(19.15,2.5),(19.22,-2),(19.28,-2.5),(19.35,2),(19.42,4.5),(19.5,2),(19.6,0),(19.72,-2.5),(19.85,-1),(20.0,-0.5)]

S43413_OBS = [(14.0,0.2),(14.05,0.3),(14.1,0.2),(14.15,0.1),(14.2,0.2),(14.25,0),(14.3,0.1),(14.35,0),(14.4,-0.1),(14.45,-0.1),(14.5,-0.2),(14.55,-0.2),(14.6,-0.3),(14.65,-0.4),(14.7,-0.5),(14.75,-0.8),(14.78,-1.2),(14.8,-1.5),(14.82,-1.5),(14.85,-1),(14.87,0),(14.9,1.5),(14.92,3),(14.94,5),(14.96,7),(14.98,10),(15.0,12.5),(15.02,15),(15.04,16.5),(15.06,17),(15.08,16.5),(15.1,15.5),(15.12,12),(15.14,7),(15.16,1.5),(15.18,-4.5),(15.2,-11),(15.22,-14),(15.24,-15),(15.26,-17),(15.28,-17),(15.3,-11),(15.32,-6),(15.34,3.5),(15.36,6.5),(15.38,6.5),(15.4,5.5),(15.42,3),(15.44,1.5),(15.46,0.5),(15.48,2),(15.5,4.5),(15.52,6.5),(15.54,7),(15.56,7),(15.58,6.5),(15.6,3),(15.62,-2),(15.64,-6),(15.66,-8.5),(15.68,-10),(15.7,-11),(15.72,-10),(15.74,-7.5),(15.76,-5),(15.78,-3.5),(15.8,-1.5),(15.82,-0.5),(15.84,0.5),(15.86,-0.5),(15.88,1),(15.9,2),(15.92,1.5),(15.94,0.5),(15.96,-1),(15.98,-0.5),(16.0,0.5),(16.02,1),(16.05,-0.5),(16.08,-1.5),(16.1,-2),(16.12,10.5),(16.13,9),(16.15,8.5),(16.18,2.5),(16.2,-2.5),(16.22,-3),(16.25,-6.5),(16.28,-6.5),(16.3,-3.5),(16.32,3.5),(16.33,4.5),(16.35,-2),(16.38,-4),(16.4,-4.5),(16.42,-3),(16.45,-1),(16.48,-0.5),(16.5,0.5),(16.52,1),(16.55,-6.5),(16.58,-6),(16.6,-3.5),(16.62,-2.5),(16.65,-1.5),(16.68,-0.5),(16.7,-3),(16.72,-4),(16.75,-2),(16.78,-2.5),(16.8,-4),(16.82,-1.5),(16.85,0),(16.88,-3.5),(16.9,-2),(16.92,-7),(16.95,1),(16.98,2.5),(17.0,7),(17.02,5.5),(17.05,3),(17.08,2),(17.1,0.5),(17.12,-1.5),(17.15,-2.5),(17.18,-1.5),(17.2,-3),(17.22,-2.5),(17.25,-2),(17.28,-2.5),(17.3,-5.5),(17.32,-3.5),(17.35,-1.5),(17.38,1.5),(17.4,2),(17.42,1),(17.45,0.5),(17.48,-1.5),(17.5,0),(17.52,0.5),(17.55,1.5),(17.58,-0.5),(17.6,3.5),(17.62,4.5),(17.65,2),(17.68,1),(17.7,0),(17.72,-1),(17.75,-2),(17.78,-1.5),(17.8,-0.5),(17.82,2),(17.85,3),(17.88,1),(17.9,0.5),(17.92,-2.5),(17.95,-1),(17.98,-0.5),(18.0,-2),(18.02,1),(18.05,2.5),(18.08,3),(18.1,1),(18.12,0.5),(18.15,-2),(18.18,0),(18.2,-0.5),(18.22,1),(18.25,-1),(18.28,-0.5),(18.3,1),(18.32,-2),(18.35,0),(18.38,2.5),(18.4,5),(18.42,4.5),(18.45,4),(18.48,2),(18.5,-2.5),(18.52,-4),(18.55,-5),(18.58,-7.5),(18.6,-6),(18.62,-1.5),(18.65,0),(18.68,1.5),(18.7,2.5),(18.72,1),(18.75,0.5),(18.78,-1),(18.8,0.5),(18.82,2.5),(18.85,4),(18.88,3.5),(18.9,2),(18.92,1),(18.95,0),(18.98,-1),(19.0,2.5),(19.02,4.5),(19.05,3.5),(19.08,2),(19.1,1),(19.12,0.5),(19.15,1.5),(19.18,2),(19.2,3),(19.22,4.5),(19.25,4),(19.28,3),(19.3,2),(19.32,0.5),(19.35,-2),(19.38,-2.5),(19.4,0),(19.42,1),(19.45,-1.5),(19.48,0),(19.5,2),(19.52,1.5),(19.55,0),(19.58,-1),(19.6,-3),(19.62,-4.5),(19.65,-7),(19.67,-8.5),(19.7,-5),(19.72,-3.5),(19.75,0),(19.78,1),(19.8,0.5),(19.82,1.5),(19.85,2.5),(19.88,4),(19.9,5.5),(19.92,6),(19.95,5),(19.98,4),(20.0,3),(20.02,1),(20.05,-1.5),(20.08,-2.5),(20.1,-3.5),(20.12,-4.5),(20.15,-5),(20.18,-4),(20.2,-3),(20.22,-1),(20.25,0.5),(20.28,2),(20.3,1.5),(20.32,2.5),(20.35,3),(20.38,2),(20.4,1),(20.42,2.5),(20.45,3.5),(20.48,5),(20.5,4),(20.52,1),(20.55,0),(20.58,-0.5),(20.6,-2),(20.62,-3),(20.65,-3.5),(20.68,-3),(20.7,-2),(20.72,-1.5),(20.75,-1),(20.78,0),(20.8,1),(20.82,0.5),(20.85,1.5),(20.88,2),(20.9,2.5),(20.92,3),(20.95,2.5),(20.98,2)]
S43413_RED = [(14.0,0),(14.1,-0.3),(14.2,-0.5),(14.3,-0.3),(14.4,-0.5),(14.5,-0.3),(14.6,-0.5),(14.7,-0.5),(14.8,-0.5),(14.85,0.5),(14.9,4),(14.95,8),(15.0,12),(15.03,11),(15.07,3),(15.12,-5),(15.17,-11.5),(15.22,-6),(15.28,0),(15.33,3.5),(15.38,2.5),(15.43,2),(15.48,5),(15.53,7),(15.58,5),(15.63,-4),(15.68,-10),(15.72,-9.5),(15.78,-5),(15.82,-1),(15.88,1),(15.93,0),(16.0,2),(16.05,5),(16.1,6),(16.15,3),(16.2,-0.5),(16.28,-2),(16.35,-1.5),(16.42,-1),(16.5,-1.5),(16.58,0),(16.65,-1),(16.72,-0.5),(16.8,-0.5),(16.85,0),(16.92,1),(17.0,2),(17.05,2.5),(17.12,1),(17.2,-1.5),(17.28,-3.5),(17.35,-1),(17.42,1.5),(17.5,0.5),(17.6,0),(17.7,1),(17.75,1.5),(17.82,0.5),(17.9,-1),(17.98,0.5),(18.05,2.5),(18.12,-1),(18.2,-5.5),(18.28,-2),(18.35,0.5),(18.42,2.5),(18.5,0),(18.55,-2),(18.62,1),(18.68,3.5),(18.75,0.5),(18.82,1.5),(18.9,1),(19.0,-2),(19.05,-0.5),(19.12,1.5),(19.2,1.5),(19.25,2),(19.3,2.5),(19.35,1),(19.42,-2),(19.5,-3),(19.58,-2),(19.65,-1.5),(19.7,0),(19.78,1.5),(19.88,3.5),(19.95,2.5),(20.05,1),(20.12,-1.5),(20.2,-4),(20.28,-1.5),(20.35,0.5),(20.42,1.5),(20.5,1),(20.58,0.5),(20.65,-2),(20.72,-3.5),(20.8,-1),(20.88,1.5),(20.95,2),(21.0,2)]
S43413_CYAN = [(14.0,0),(14.5,0),(14.62,-1),(14.7,1),(14.78,-1.5),(14.85,-0.5),(14.95,10),(15.02,17.5),(15.08,5),(15.12,-10),(15.17,-20),(15.22,-10),(15.28,2),(15.33,4),(15.42,0),(15.48,7),(15.52,11),(15.58,3),(15.65,-5),(15.7,-12),(15.77,-3),(15.82,3),(15.88,-0.5),(15.93,2.5),(16.0,0),(16.05,3),(16.12,0.5),(16.2,-2),(16.28,0),(16.35,-1.5),(16.45,0.5),(16.55,-2.5),(16.62,-1.5),(16.72,1),(16.85,1.5),(16.92,-1),(17.05,2),(17.15,1),(17.25,-3.5),(17.32,-4),(17.42,1.5),(17.5,1),(17.6,0.5),(17.7,0.5),(17.8,-1),(17.9,0),(17.98,2),(18.05,4),(18.12,0),(18.2,-1.5),(18.3,0),(18.4,3),(18.5,-1.5),(18.55,-4),(18.62,0),(18.7,1),(18.8,2.5),(18.88,1),(18.95,2),(19.0,2),(19.1,2.5),(19.2,3),(19.3,3.5),(19.4,0),(19.45,-2),(19.55,-1),(19.6,-2.5),(19.65,-3),(19.75,1),(19.85,3),(19.92,5.5),(20.0,2),(20.05,0),(20.12,-2),(20.18,-5),(20.25,-2),(20.35,1),(20.42,3.5),(20.5,1),(20.58,0),(20.65,-2.5),(20.72,-4),(20.8,-1),(20.9,3),(21.0,2)]

S32411_OBS = [(16.0,0),(16.04,-0.1),(16.08,-0.2),(16.12,-0.3),(16.16,-0.2),(16.2,-0.4),(16.24,-0.5),(16.28,-0.5),(16.32,-0.6),(16.36,-0.8),(16.4,-0.9),(16.44,-1),(16.48,-1.2),(16.52,-1.5),(16.55,-1.7),(16.58,-1.5),(16.6,-0.5),(16.62,0.5),(16.64,2),(16.66,3.5),(16.68,5),(16.7,7),(16.72,8),(16.74,10),(16.76,11.5),(16.78,12),(16.8,11.5),(16.82,9),(16.84,6.5),(16.86,3),(16.88,0),(16.9,-3.5),(16.92,-5.5),(16.94,-6.5),(16.96,-6),(16.98,-4),(17.0,-1.5),(17.02,1),(17.04,3.5),(17.06,5),(17.08,4.5),(17.1,2),(17.12,-2),(17.14,-4.5),(17.16,-7),(17.18,-7.5),(17.2,-6),(17.22,-1),(17.24,4.5),(17.26,7.5),(17.28,9),(17.3,9),(17.32,7.5),(17.34,6),(17.36,3),(17.38,-1),(17.4,-3),(17.42,-7.5),(17.44,-8),(17.46,-11.5),(17.48,-12.5),(17.5,-8.5),(17.52,-6),(17.54,-4.5),(17.56,-1),(17.58,0),(17.6,-2),(17.62,-1.5),(17.64,0.5),(17.66,1.5),(17.68,0),(17.7,2.5),(17.72,3.5),(17.74,4.5),(17.76,5),(17.78,4.5),(17.8,3.5),(17.82,1.5),(17.84,0),(17.86,-1.5),(17.88,-2.5),(17.9,-3.5),(17.92,-4),(17.94,-2.5),(17.96,-1),(17.98,0.5),(18.0,1.5),(18.02,-1),(18.05,0),(18.08,1),(18.1,1.5),(18.12,2.5),(18.15,3),(18.18,2.5),(18.2,2),(18.22,-3),(18.25,-6),(18.27,-6.5),(18.3,-5.5),(18.33,-3),(18.35,-1.5),(18.38,1),(18.4,3.5),(18.42,4.5),(18.45,4.5),(18.48,2),(18.5,0),(18.52,-1),(18.55,-2),(18.58,-5.5),(18.6,-8),(18.62,-8.5),(18.65,-4.5),(18.68,0),(18.7,1.5),(18.72,1),(18.75,0.5),(18.78,-1),(18.8,0),(18.82,1),(18.85,2),(18.88,1.5),(18.9,-0.5),(18.92,-2),(18.95,-2.5),(18.98,-3),(19.0,-2),(19.02,-1),(19.05,-2.5),(19.08,-3),(19.1,-1),(19.12,1),(19.15,2.5),(19.18,3),(19.2,4.5),(19.22,5.5),(19.25,5),(19.28,4),(19.3,2.5),(19.32,1),(19.35,-0.5),(19.38,-1.5),(19.4,-2),(19.42,-1.5),(19.45,0.5),(19.48,1.5),(19.5,0),(19.52,-1),(19.55,-3.5),(19.58,-5),(19.6,-3),(19.62,-1.5),(19.65,1.5),(19.68,10),(19.7,8.5),(19.72,7),(19.74,6),(19.76,5),(19.78,-2.5),(19.8,-0.5),(19.82,1.5),(19.84,1.5),(19.86,-1.5),(19.88,-3.5),(19.9,-5),(19.92,-4.5),(19.95,-3.5),(19.98,-2),(20.0,0),(20.02,-1),(20.05,-0.5),(20.08,-2),(20.1,-2.5),(20.12,-1),(20.15,-0.5),(20.18,0.5),(20.2,1.5),(20.22,2.5),(20.25,3),(20.28,2.5),(20.3,2),(20.32,-0.5),(20.35,-3),(20.38,-4.5),(20.4,-3),(20.42,-1),(20.45,0),(20.48,0.5),(20.5,1),(20.52,-0.5),(20.55,-1),(20.58,-1.5),(20.6,-2),(20.62,-3),(20.65,-1.5),(20.68,-0.5),(20.7,0.5),(20.72,1),(20.75,4.5),(20.77,8),(20.78,7.5),(20.8,4),(20.82,2.5),(20.85,0.5),(20.88,0),(20.9,1),(20.92,1.5),(20.95,2),(20.98,1.5),(21.0,3),(21.02,4),(21.05,2),(21.08,0),(21.1,-1),(21.12,-3.5),(21.15,-4.5),(21.18,-5),(21.2,-4),(21.22,-3),(21.25,-2),(21.28,-1),(21.3,0),(21.32,-1.5),(21.35,0.5),(21.38,-0.5),(21.4,1),(21.42,2),(21.45,2.5),(21.48,3.5),(21.5,3),(21.52,4.5),(21.55,4),(21.58,5.5),(21.6,5),(21.62,4.5),(21.65,3),(21.68,2.5),(21.7,3.5),(21.72,1),(21.75,4),(21.78,6),(21.8,6.5),(21.82,5),(21.84,3),(21.86,0.5),(21.88,-1),(21.9,-2),(21.92,-2.5),(21.95,-4),(21.98,-1),(22.0,-1.5),(22.02,-0.5),(22.05,0),(22.08,-1),(22.1,0.5),(22.12,1),(22.15,2.5),(22.18,3.5),(22.2,3),(22.22,2.5),(22.25,4),(22.28,5.5),(22.3,3),(22.32,2),(22.35,1.5),(22.38,2.5),(22.4,2),(22.42,1),(22.45,-0.5),(22.48,-1.5),(22.5,-1),(22.52,0.5),(22.55,0),(22.58,-1),(22.6,-2),(22.62,-2.5),(22.65,-2),(22.68,-1),(22.7,-0.5),(22.72,0.5),(22.75,-1),(22.78,-1.5),(22.8,-2),(22.82,-2.5),(22.85,-3),(22.88,-3.5),(22.9,-3),(22.92,-2.5),(22.95,-3),(22.98,-3)]
S32411_RED = [(16.0,0),(16.1,-0.3),(16.2,0),(16.3,-0.5),(16.4,-0.5),(16.5,-0.5),(16.55,0),(16.62,3),(16.7,7),(16.78,10),(16.82,9),(16.87,0),(16.92,-4),(16.97,-1),(17.0,0.5),(17.05,-1.5),(17.1,-2),(17.15,-1.5),(17.2,3),(17.28,7),(17.35,5),(17.42,-2),(17.48,-8),(17.53,-3),(17.58,0),(17.65,1),(17.72,3.5),(17.78,4.2),(17.85,2),(17.92,-2),(17.98,-3.5),(18.05,-1.5),(18.12,1),(18.18,1.5),(18.25,0),(18.3,-0.5),(18.35,0.5),(18.42,1.3),(18.5,-0.5),(18.55,-1.5),(18.62,-2.5),(18.7,0),(18.78,1.5),(18.85,0),(18.92,-2),(19.0,-2),(19.08,-1),(19.15,1.5),(19.2,3),(19.27,5),(19.33,3),(19.4,0.5),(19.48,-2),(19.55,-3),(19.62,-1),(19.7,0),(19.78,-2),(19.85,-4.5),(19.9,-5.5),(19.95,-4.5),(20.02,-2),(20.1,-1.5),(20.18,1),(20.25,3.5),(20.32,1),(20.38,-3),(20.42,-3.5),(20.48,-0.5),(20.52,2.5),(20.58,0),(20.62,-2),(20.68,-0.5),(20.75,0.5),(20.82,1.5),(20.88,0),(20.95,0.5),(21.0,1),(21.05,2),(21.1,1.5),(21.15,-2),(21.22,-5),(21.28,-4.5),(21.35,-2),(21.42,0),(21.5,3),(21.55,4.5),(21.62,4.5),(21.7,4),(21.78,5.5),(21.85,2),(21.92,-1),(22.0,-1.5),(22.08,-1),(22.15,-0.5),(22.22,-1),(22.28,-2),(22.35,-1),(22.42,-0.5),(22.5,0),(22.58,0),(22.65,0.5),(22.72,1),(22.8,-0.5),(22.88,-1.5),(22.95,-2),(23.0,-2.5)]
S32411_CYAN = [(16.0,0),(16.45,0),(16.5,1.3),(16.55,-0.5),(16.62,2),(16.7,8),(16.77,13),(16.85,5),(16.92,-12),(16.97,-5),(17.03,6.5),(17.08,1),(17.13,-5),(17.2,2),(17.28,7.5),(17.35,3),(17.42,-5.5),(17.48,-7),(17.55,0),(17.62,4.5),(17.7,2),(17.8,3),(17.88,-2),(17.95,-7),(18.02,-2),(18.1,1),(18.18,3),(18.25,-1),(18.32,3.5),(18.4,1),(18.5,-0.5),(18.58,-1.5),(18.62,-4),(18.7,2),(18.78,2.5),(18.85,1),(18.92,-1),(19.0,-2),(19.1,-1),(19.15,2.5),(19.22,5.2),(19.3,2),(19.35,-1),(19.42,-2.5),(19.5,1),(19.55,-1.5),(19.62,-0.5),(19.7,3),(19.78,0),(19.85,-2),(19.92,-4),(20.0,-1.5),(20.1,-4.5),(20.2,1),(20.25,2.5),(20.32,0),(20.42,-2),(20.5,2.5),(20.58,0.5),(20.65,-1),(20.72,0.5),(20.8,0.5),(20.9,0),(20.98,1.5),(21.05,2),(21.12,-1.5),(21.2,-3),(21.3,-1),(21.4,0),(21.5,3),(21.6,5),(21.7,5),(21.8,3),(21.88,-2),(21.95,-3.5),(22.05,0),(22.15,2.5),(22.2,4),(22.28,1),(22.35,-1),(22.42,0.5),(22.5,1),(22.55,-2.5),(22.65,-1),(22.75,0),(22.85,-1.5),(22.95,1),(23.0,0.5)]

# panel definitions: label, label x (px from plot left), x domain, x ticks, y domain, y ticks
PANELS = [
    ("ONC CORK", 345, (8, 15), [8, 9, 10, 11, 12, 13, 14], (-14, 14), [-10, -5, 0, 5, 10], CORK_OBS, CORK_RED, CORK_CYAN),
    ("46404", 398, (8, 15), [8, 9, 10, 11, 12, 13, 14], (-16, 16), [-10, 0, 10], S46404_OBS, S46404_RED, S46404_CYAN),
    ("46407", 400, (8, 15), [8, 9, 10, 11, 12, 13, 14], (-20, 20), [-20, -10, 0, 10, 20], S46407_OBS, S46407_RED, S46407_CYAN),
    ("46411", 398, (8.5, 15.5), [9, 10, 11, 12, 13, 14, 15], (-20, 20), [-20, -10, 0, 10, 20], S46411_OBS, S46411_RED, S46411_CYAN),
    ("46412", 400, (9, 16), [9, 10, 11, 12, 13, 14, 15], (-8, 12), [-5, 0, 5, 10], S46412_OBS, S46412_RED, S46412_CYAN),
    ("43412", 398, (13, 20), [13, 14, 15, 16, 17, 18, 19], (-12, 16), [-10, 0, 10], S43412_OBS, S43412_RED, S43412_CYAN),
    ("43413", 400, (14, 21), [14, 15, 16, 17, 18, 19, 20], (-20, 20), [-20, -10, 0, 10, 20], S43413_OBS, S43413_RED, S43413_CYAN),
    ("32411", 398, (16, 23), [16, 17, 18, 19, 20, 21, 22], (-15, 15), [-10, 0, 10], S32411_OBS, S32411_RED, S32411_CYAN),
]

W, H = 420, 171
FONT = "Liberation Sans"


def frame(pairs):
    return pd.DataFrame(pairs, columns=["t", "v"])


def panel(idx):
    label, lx, xdom, xticks, ydom, yticks, obs, red, cyan = PANELS[idx]
    left = idx % 2 == 0
    bottom = idx >= 6
    xkw = dict(values=xticks, format="d", labelFlush=False, labelPadding=11, ticks=False,
               domain=False, grid=True, titlePadding=3)
    ykw = dict(values=yticks, format="d", labelFlush=False, labelPadding=5, ticks=False,
               domain=False, grid=True, titlePadding=14)
    xs = alt.Scale(domain=list(xdom), nice=False, zero=False)
    ys = alt.Scale(domain=list(ydom), nice=False, zero=False)
    if bottom:
        x = alt.X("t:Q", scale=xs, axis=alt.Axis(**xkw), title="hour after EQ")
    else:
        x = alt.X("t:Q", scale=xs, axis=alt.Axis(**xkw), title=None)
    if left:
        y = alt.Y("v:Q", scale=ys, axis=alt.Axis(**ykw), title="cm")
    else:
        y = alt.Y("v:Q", scale=ys, axis=alt.Axis(**ykw), title=None)

    cy = alt.Chart(frame(cyan)).mark_line(color="#19C3F0", strokeWidth=6.5, clip=True,
                                          interpolate="monotone").encode(x=x, y=y)
    rd = alt.Chart(frame(red)).mark_line(color="#FF0000", strokeWidth=4.5, clip=True,
                                         interpolate="monotone").encode(x=x, y=y)
    pts = alt.Chart(frame(obs)).mark_point(shape="circle", filled=False, color="#454545",
                                           size=46, strokeWidth=1.1, opacity=1,
                                           clip=True).encode(x=x, y=y)
    txt = alt.Chart(pd.DataFrame({"s": [label]})).mark_text(
        align="right", baseline="alphabetic", font=FONT, fontSize=24, color="black"
    ).encode(x=alt.value(lx), y=alt.value(28), text="s:N")
    return alt.layer(cy, rd, pts, txt).properties(width=W, height=H)


chart = alt.concat(*[panel(i) for i in range(8)], columns=2,
                   spacing={"row": 37, "column": 49}, bounds="flush").properties(
    padding={"left": 6, "top": 7, "right": 5, "bottom": 5}
).configure_axis(
    labelFont=FONT, titleFont=FONT, labelFontSize=20, titleFontSize=23,
    labelColor="black", titleColor="black", titleFontWeight="normal",
    gridColor="#000000", gridDash=[1, 4], gridOpacity=0.6, gridWidth=1,
).configure_view(stroke="black", strokeWidth=1.6)

chart.save("out.html", embed_options={"renderer": "svg", "actions": False})
